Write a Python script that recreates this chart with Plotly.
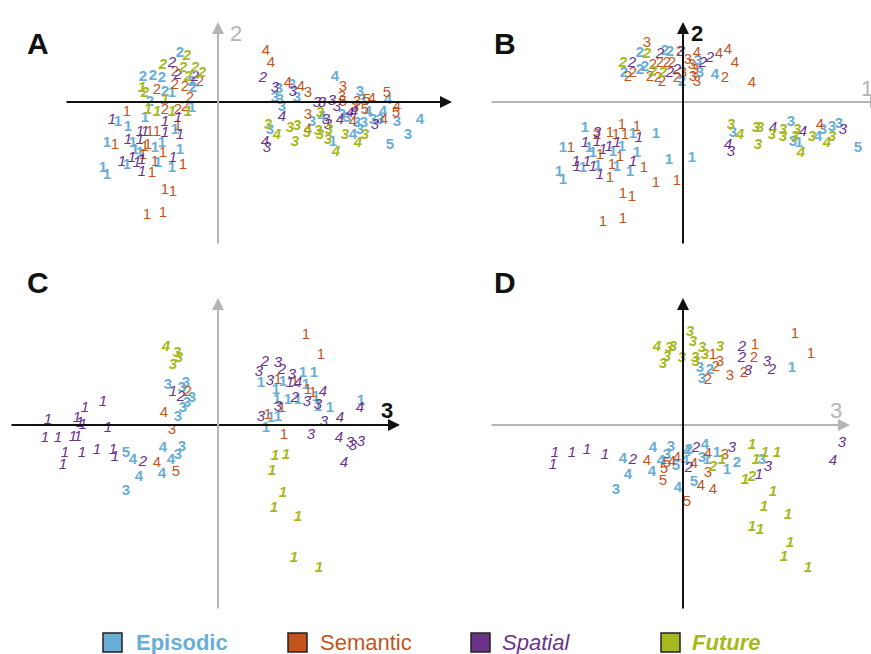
import plotly.graph_objects as go

W, H = 871, 654
S = 10.0  # pixels per score unit
FONT = "Liberation Sans, Arial, sans-serif"

# ---------------- DATA: (horizontal score, vertical score, label) ----------------
# Panel A: component 1 (horizontal) vs component 2 (vertical)
A_episodic = [(-3.8, 4.9, '2'), (-7.5, 2.5, '2'), (-6.5, 2.6, '2'), (-5.6, 2.4, '2'), (-2.6, 2.0, '2'),
              (-5.3, 1.0, '2'), (-2.5, 1.4, '2'), (-6.8, 0.0, '2'), (-4.6, 0.9, '1'), (-2.6, -0.6, '1'),
              (-7.3, -1.6, '1'), (-10.0, -2.0, '1'), (-9.0, -2.5, '1'), (-4.3, -2.8, '1'), (-11.1, -4.1, '1'),
              (-8.5, -4.1, '1'), (-6.3, -4.6, '1'), (-5.6, -4.1, '1'), (-8.3, -4.8, '1'), (-7.8, -5.1, '1'),
              (-3.8, -4.8, '1'), (-9.1, -6.3, '1'), (-6.0, -6.1, '1'), (-11.5, -6.6, '1'), (-11.1, -7.3, '1'),
              (-4.6, -6.6, '1'), (6.1, 1.3, '3'), (7.4, 1.7, '3'), (5.7, 0.4, '3'), (6.2, 0.2, '3'),
              (7.9, 0.4, '3'), (6.4, -0.5, '3'), (14.2, 1.0, '3'), (14.4, 0.2, '3'), (9.4, -2.0, '3'),
              (12.4, -1.3, '3'), (12.9, -1.6, '3'), (13.9, -2.1, '3'), (14.6, -2.1, '3'), (14.2, -2.8, '3'),
              (15.5, -1.8, '3'), (16.2, -1.8, '3'), (17.9, -2.0, '3'), (5.2, -2.8, '3'), (19.0, -3.3, '3'),
              (11.7, 2.5, '4'), (17.0, 0.2, '4'), (10.4, -1.5, '4'), (15.0, -1.0, '4'), (16.5, -1.0, '4'),
              (20.2, -1.8, '4'), (13.5, -3.3, '4'), (11.5, -4.0, '1'), (17.2, -4.3, '5')]
A_semantic = [(-4.3, 3.0, '2'), (-6.1, 1.2, '2'), (-4.3, 1.7, '2'), (-3.3, 1.5, '2'), (-2.8, 0.4, '2'),
              (-5.3, -0.8, '2'), (-4.0, -0.8, '2'), (-3.3, -0.5, '2'), (-1.8, 2.0, '2'), (-9.1, -1.0, '1'),
              (-4.0, -2.4, '1'), (-6.8, -3.0, '1'), (-6.1, -3.0, '1'), (-10.3, -4.3, '1'), (-7.3, -4.5, '1'),
              (-7.0, -4.3, '1'), (-7.5, -5.3, '1'), (-5.5, -5.1, '1'), (-6.3, -6.0, '1'), (-6.6, -7.1, '1'),
              (-3.5, -6.3, '1'), (-5.3, -8.8, '1'), (-4.5, -9.0, '1'), (-7.1, -11.3, '1'), (-5.5, -11.1, '1'),
              (4.8, 5.1, '4'), (5.3, 3.9, '4'), (7.0, 1.9, '4'), (8.3, 1.5, '4'), (9.0, -2.8, '4'),
              (13.5, -2.0, '4'), (16.6, -1.8, '4'), (17.9, -0.5, '4'), (15.4, 0.3, '4'), (9.0, 0.9, '3'),
              (12.5, 1.5, '3'), (12.4, 0.5, '3'), (13.9, 0.0, '3'), (13.7, -0.6, '3'), (9.0, -1.3, '3'),
              (12.5, 0.0, '5'), (14.9, 0.2, '5'), (16.9, 0.9, '5'), (14.7, -0.8, '5'), (17.8, -1.1, '5')]
A_spatial = [(-4.6, 3.9, '2'), (-4.0, 2.7, '2'), (-2.3, 2.5, '2'), (-10.6, -1.8, '1'), (-5.3, -2.0, '1'),
             (-4.0, -1.6, '1'), (-7.8, -3.0, '1'), (-7.3, -3.0, '1'), (-5.3, -3.1, '1'), (-3.8, -3.3, '1'),
             (-9.0, -3.8, '1'), (-7.8, -3.8, '1'), (-9.6, -6.0, '1'), (-8.6, -5.6, '1'), (-8.1, -6.1, '1'),
             (-7.6, -5.8, '1'), (-4.5, -5.6, '1'), (-7.6, -7.0, '1'), (4.5, 2.4, '2'), (5.7, 1.4, '3'),
             (7.5, 1.0, '3'), (9.9, -0.1, '3'), (10.4, -0.1, '3'), (11.4, 0.1, '3'), (11.9, -0.5, '3'),
             (10.8, -1.8, '3'), (11.0, -2.3, '3'), (15.7, -2.3, '3'), (4.9, -4.6, '3'), (6.4, -1.5, '4'),
             (13.2, -1.1, '4'), (13.6, -1.0, '4'), (12.2, -1.8, '4'), (4.7, -4.0, '4')]
A_future = [(-3.1, 4.6, '2'), (-5.5, 3.7, '2'), (-3.5, 3.4, '2'), (-2.3, 3.4, '2'), (-1.6, 2.9, '2'),
            (-3.0, 2.5, '2'), (-7.3, 0.9, '2'), (-7.6, 1.4, '1'), (-5.3, 0.2, '1'), (-7.0, -0.8, '1'),
            (-6.1, -1.0, '1'), (-4.6, -1.0, '1'), (-3.0, -1.0, '1'), (10.2, -1.1, '3'), (5.0, -2.3, '3'),
            (7.2, -2.6, '3'), (7.9, -2.4, '3'), (8.9, -3.1, '3'), (10.0, -2.9, '3'), (10.2, -3.3, '3'),
            (11.1, -2.8, '3'), (11.0, -3.8, '3'), (7.7, -4.0, '3'), (12.7, -3.3, '3'), (14.7, -3.3, '3'),
            (5.9, -3.3, '4'), (14.0, -4.1, '4'), (11.8, -5.0, '4')]

# Panel B: component 1 (horizontal) vs component 2 (vertical)
B_episodic = [(-4.3, 4.9, '2'), (-1.8, 5.1, '2'), (-1.3, 5.0, '2'), (-5.9, 2.9, '2'), (-4.3, 3.2, '2'),
              (-3.8, 3.5, '2'), (-0.1, 2.0, '2'), (1.5, 4.1, '3'), (1.7, 2.9, '3'), (10.8, -2.0, '3'),
              (5.0, -3.1, '3'), (14.0, -2.8, '3'), (14.9, -2.5, '3'), (15.6, -2.2, '3'), (11.0, -4.0, '3'),
              (3.2, 2.7, '4'), (13.5, -3.5, '4'), (-9.8, -2.6, '1'), (-5.0, -3.2, '1'), (-2.7, -3.2, '1'),
              (-12.0, -4.6, '1'), (-9.4, -4.6, '1'), (-9.0, -5.1, '1'), (-7.0, -5.0, '1'), (-6.1, -4.5, '1'),
              (-4.6, -5.1, '1'), (-1.4, -5.8, '1'), (0.9, -5.6, '1'), (-10.0, -6.6, '1'), (-8.5, -6.4, '1'),
              (-6.6, -6.5, '1'), (-5.3, -7.0, '1'), (-12.4, -7.0, '1'), (-12.0, -7.8, '1'), (11.6, -4.1, '1'),
              (17.5, -4.6, '5')]
B_semantic = [(-3.6, 5.9, '3'), (0.5, 4.2, '3'), (0.9, 3.7, '3'), (1.2, 3.2, '3'), (0.0, 2.9, '3'),
              (1.0, 2.5, '3'), (1.4, 2.0, '3'), (-0.3, 5.0, '2'), (1.4, 4.9, '4'), (3.6, 4.8, '4'),
              (4.5, 5.2, '4'), (5.2, 3.9, '4'), (6.9, 1.9, '4'), (13.7, -2.3, '4'), (-5.5, 2.5, '2'),
              (-5.0, 2.9, '2'), (-3.0, 3.7, '2'), (-2.3, 3.9, '2'), (-1.6, 3.9, '2'), (-1.1, 3.9, '2'),
              (-3.3, 2.5, '2'), (-2.5, 2.4, '2'), (-2.1, 2.0, '2'), (-0.6, 2.4, '2'), (4.2, 2.4, '2'),
              (-8.6, -3.3, '2'), (-7.3, -3.1, '1'), (-6.7, -3.3, '1'), (-6.1, -2.3, '1'), (-5.8, -3.3, '1'),
              (-4.6, -2.5, '1'), (-11.2, -4.6, '1'), (-8.3, -5.3, '1'), (-6.3, -5.5, '1'), (-7.1, -6.3, '1'),
              (-7.3, -7.6, '1'), (-3.9, -6.6, '1'), (-2.7, -8.1, '1'), (-0.6, -7.9, '1'), (-6.0, -9.2, '1'),
              (-5.1, -9.5, '1'), (-8.0, -12.0, '1'), (-6.0, -11.7, '1')]
B_spatial = [(-2.3, 4.8, '2'), (-5.1, 3.9, '2'), (-1.3, 2.9, '2'), (-0.6, 3.2, '2'), (2.0, 3.9, '2'),
             (2.7, 4.4, '2'), (-0.2, 5.0, '3'), (-8.6, -3.1, '3'), (16.0, -2.8, '3'), (4.8, -5.0, '3'),
             (9.0, -2.6, '4'), (12.0, -3.0, '4'), (4.5, -4.3, '4'), (-4.4, -3.6, '1'), (-9.8, -4.1, '1'),
             (-8.6, -4.0, '1'), (-8.0, -4.8, '1'), (-7.4, -4.5, '1'), (-6.6, -4.1, '1'), (-10.7, -6.0, '1'),
             (-10.6, -6.5, '1'), (-9.6, -6.0, '1'), (-9.0, -6.5, '1'), (-8.3, -7.3, '1'), (-5.0, -6.0, '1')]
B_future = [(-3.6, 4.8, '2'), (-6.0, 3.9, '2'), (-3.0, 3.0, '2'), (-2.0, 2.9, '2'), (4.8, -2.3, '3'),
            (7.3, -2.6, '3'), (7.7, -2.6, '3'), (8.9, -3.3, '3'), (7.5, -4.3, '3'), (10.0, -2.8, '3'),
            (10.0, -3.5, '3'), (11.4, -2.8, '3'), (11.2, -3.5, '3'), (12.9, -3.5, '3'), (14.9, -3.5, '3'),
            (5.7, -3.3, '4'), (14.4, -4.1, '4'), (11.8, -5.1, '4')]

# Panel C: component 3 (horizontal) vs component 4 (vertical)
C_episodic = [(-5.0, 4.0, '3'), (-3.6, 3.7, '3'), (-3.2, 4.2, '3'), (-3.5, 1.7, '3'), (-3.1, 2.2, '3'),
              (-2.6, 2.7, '3'), (-4.0, 0.8, '3'), (-3.6, -2.2, '3'), (-4.0, -3.0, '3'), (-9.2, -6.6, '3'),
              (-9.2, -2.8, '5'), (-8.5, -3.5, '4'), (-5.5, -2.3, '4'), (-4.7, -3.5, '4'), (-5.6, -4.9, '4'),
              (-7.9, -5.2, '4'), (4.3, 4.2, '1'), (6.5, 4.3, '1'), (5.8, 3.5, '1'), (8.5, 5.2, '1'),
              (9.6, 5.2, '1'), (8.8, 4.0, '1'), (5.9, 2.5, '1'), (7.0, 2.5, '1'), (8.0, 2.5, '1'),
              (9.8, 2.8, '1'), (10.0, 1.8, '1'), (11.2, 1.7, '1'), (5.3, 0.7, '1'), (6.0, 0.8, '1'),
              (4.8, -0.3, '1'), (14.3, 2.4, '1')]
C_semantic = [(-3.0, 3.3, '2'), (-5.4, 1.2, '4'), (-6.1, -3.8, '4'), (-4.6, -0.5, '3'), (-4.2, -4.7, '5'),
              (8.8, 9.0, '1'), (10.3, 7.0, '1'), (6.0, 4.5, '1'), (7.7, 4.3, '1'), (9.0, 3.5, '1'),
              (9.5, 3.2, '1'), (6.4, 1.7, '1'), (5.0, 1.0, '1'), (6.6, -1.0, '1')]
C_spatial = [(-4.5, 3.3, '1'), (-11.5, 2.3, '1'), (-13.3, 1.7, '1'), (-13.5, 0.0, '1'), (-17.0, 0.5, '1'),
             (-14.1, 0.7, '1'), (-13.8, 0.2, '1'), (-11.0, -0.3, '1'), (-17.3, -1.3, '1'), (-16.0, -1.3, '1'),
             (-14.5, -1.2, '1'), (-14.0, -1.2, '1'), (-15.3, -2.8, '1'), (-15.5, -4.0, '1'), (-13.6, -2.8, '1'),
             (-12.1, -2.5, '1'), (-10.5, -2.5, '1'), (-10.3, -3.2, '1'), (7.2, 4.2, '1'), (-3.7, 2.8, '2'),
             (-7.5, -3.7, '2'), (4.7, 6.3, '2'), (6.4, 5.5, '2'), (7.7, 2.7, '2'), (6.0, 6.2, '3'),
             (4.1, 5.3, '3'), (5.2, 4.4, '3'), (7.4, 5.0, '3'), (8.9, 2.3, '3'), (10.0, 2.0, '3'),
             (6.0, 1.8, '3'), (4.3, 0.8, '3'), (10.6, 0.3, '3'), (9.3, -1.0, '3'), (13.2, -1.8, '3'),
             (13.5, -2.1, '3'), (14.3, -1.7, '3'), (8.0, 4.2, '4'), (10.5, 3.3, '4'), (12.2, 0.7, '4'),
             (14.2, 1.7, '4'), (12.1, -1.3, '4'), (12.6, -3.8, '4')]
C_future = [(-5.2, 7.8, '4'), (-4.1, 7.2, '3'), (-3.9, 6.7, '3'), (-4.5, 6.0, '3'), (5.7, -3.1, '1'),
            (6.8, -3.0, '1'), (5.4, -4.6, '1'), (6.5, -6.8, '1'), (5.6, -8.3, '1'), (8.0, -9.2, '1'),
            (7.6, -13.3, '1'), (10.1, -14.3, '1')]

# Panel D: component 3 (horizontal) vs component 4 (vertical)
D_episodic = [(1.7, 5.7, '3'), (1.9, 4.6, '3'), (-1.2, -2.2, '3'), (-6.7, -6.5, '3'), (1.9, -3.3, '3'),
              (7.9, -3.5, '3'), (-1.6, -3.0, '3'), (2.7, 5.5, '2'), (0.6, -2.5, '2'), (5.4, -3.8, '2'),
              (10.9, 5.7, '1'), (2.4, -3.5, '1'), (3.4, -2.8, '1'), (4.4, -4.5, '1'), (-6.0, -3.4, '4'),
              (-3.0, -2.3, '4'), (-2.2, -3.6, '4'), (0.2, -3.6, '4'), (0.4, -2.7, '4'), (-5.5, -5.0, '4'),
              (-3.1, -4.7, '4'), (-0.5, -6.3, '4'), (2.2, -2.0, '4'), (-0.7, -4.1, '5'), (1.1, -5.7, '5')]
D_semantic = [(3.0, 7.0, '1'), (7.2, 8.0, '1'), (11.2, 9.1, '1'), (12.8, 7.1, '1'), (3.3, 5.8, '2'),
              (2.5, 4.5, '2'), (7.1, 6.7, '2'), (6.1, 5.2, '2'), (4.7, 4.9, '3'), (3.7, 6.3, '3'),
              (4.2, -3.0, '3'), (2.5, -4.8, '3'), (-3.6, -3.6, '4'), (-1.1, -3.7, '4'), (-0.6, -3.3, '4'),
              (1.1, -3.9, '4'), (2.5, -2.9, '4'), (1.8, -6.1, '4'), (3.0, -6.5, '4'), (-1.6, -3.8, '5'),
              (-1.9, -4.4, '5'), (-2.0, -5.6, '5'), (0.4, -7.7, '5')]
D_spatial = [(5.9, 7.8, '2'), (5.9, 6.7, '2'), (8.9, 5.5, '2'), (-5.0, -3.5, '2'), (0.6, -4.3, '2'),
             (1.3, -2.3, '2'), (8.4, 6.3, '3'), (6.5, 5.4, '3'), (4.9, -2.3, '3'), (8.5, -4.2, '3'),
             (15.9, -1.8, '3'), (-12.8, -2.8, '1'), (-13.0, -4.0, '1'), (-11.1, -2.8, '1'), (-9.6, -2.5, '1'),
             (-7.8, -3.0, '1'), (7.6, -5.0, '1'), (15.0, -3.6, '4')]
D_future = [(-1.8, 10.6, '4'), (-2.6, 7.8, '4'), (0.9, 10.0, '3'), (0.7, 9.3, '3'), (1.0, 8.3, '3'),
            (-1.4, 7.7, '3'), (-1.0, 7.8, '3'), (-1.6, 6.8, '3'), (-2.0, 6.1, '3'), (-0.1, 6.7, '3'),
            (1.2, 6.7, '3'), (1.9, 7.7, '3'), (2.2, 7.0, '3'), (3.7, 7.8, '3'), (1.3, 6.3, '3'),
            (3.0, -4.2, '2'), (6.9, -5.2, '2'), (3.9, -3.5, '1'), (6.9, -2.0, '1'), (7.3, -3.5, '1'),
            (8.2, -2.8, '1'), (9.4, -2.8, '1'), (6.2, -5.5, '1'), (9.0, -6.7, '1'), (8.1, -8.2, '1'),
            (10.5, -9.0, '1'), (6.9, -10.2, '1'), (7.7, -10.5, '1'), (10.7, -11.8, '1'), (10.1, -13.2, '1'),
            (12.5, -14.3, '1')]

CONDITIONS = ["Episodic", "Semantic", "Spatial", "Future"]
PANEL_DATA = {
    "A": [A_episodic, A_semantic, A_spatial, A_future],
    "B": [B_episodic, B_semantic, B_spatial, B_future],
    "C": [C_episodic, C_semantic, C_spatial, C_future],
    "D": [D_episodic, D_semantic, D_spatial, D_future],
}

# ---------------- STYLE / LAYOUT ----------------
STYLE = {
    "Episodic": dict(color="#69aed6", weight="bold", style="normal"),
    "Semantic": dict(color="#c1561d", weight="normal", style="normal"),
    "Spatial": dict(color="#6a3388", weight="normal", style="italic"),
    "Future": dict(color="#a6b91c", weight="bold", style="italic"),
}
BLACK, GRAY = "#111111", "#b5b5b5"

# panel: axis suffix, origin pixel, domain box (x0, y0, x1, y1) in pixels,
# horizontal arrow (x_start_px, x_tip_px, color, label, label_px, bold)
# vertical arrow (y_start_px, y_tip_px, color, label, label_px, bold)
PANELS = {
    "A": dict(n="", origin=(218, 102), box=(0, 0, 435, 327), letter=(25, 25),
              h=(65, 452, BLACK, "1", (440, 88), True), v=(245, 22, GRAY, "2", (236, 33), False)),
    "B": dict(n="2", origin=(683, 102), box=(436, 0, 871, 327), letter=(505, 25),
              h=(490, 882, GRAY, "1", (867, 88), False), v=(245, 22, BLACK, "2", (697, 33), True)),
    "C": dict(n="3", origin=(218, 425), box=(0, 327, 435, 654), letter=(25, 282),
              h=(10, 400, BLACK, "3", (387, 410), True), v=(610, 298, GRAY, "4", (236, 312), False)),
    "D": dict(n="4", origin=(683, 425), box=(436, 327, 871, 654), letter=(505, 282),
              h=(490, 850, GRAY, "3", (836, 410), False), v=(610, 298, BLACK, "4", (697, 312), True)),
}

fig = go.Figure()
layout = dict(width=W, height=H, margin=dict(l=0, r=0, t=0, b=0),
              paper_bgcolor="white", plot_bgcolor="white", showlegend=False)
annotations, shapes = [], []

for key, p in PANELS.items():
    n = p["n"]
    ox, oy = p["origin"]
    x0, y0, x1, y1 = p["box"]
    layout["xaxis" + n] = dict(domain=[x0 / W, x1 / W], range=[(x0 - ox) / S, (x1 - ox) / S],
                               visible=False, fixedrange=True, anchor="y" + n)
    layout["yaxis" + n] = dict(domain=[1 - y1 / H, 1 - y0 / H], range=[(oy - y1) / S, (oy - y0) / S],
                               visible=False, fixedrange=True, anchor="x" + n)
    xr, yr = "x" + n, "y" + n

    # horizontal axis arrow
    hs, ht, hc, hl, (hlx, hly), hb = p["h"]
    annotations.append(dict(x=(ht - ox) / S, y=0, ax=(hs - ox) / S, ay=0, xref=xr, yref=yr,
                            axref=xr, ayref=yr, text="", showarrow=True, arrowhead=2, arrowsize=1.2,
                            arrowwidth=2, arrowcolor=hc, standoff=0))
    annotations.append(dict(x=(hlx - ox) / S, y=(oy - hly) / S, xref=xr, yref=yr, showarrow=False,
                            text=("<b>%s</b>" % hl) if hb else hl,
                            font=dict(family=FONT, size=22, color=hc)))
    # vertical axis arrow
    vs, vt, vc, vl, (vlx, vly), vb = p["v"]
    annotations.append(dict(x=0, y=(oy - vt) / S, ax=0, ay=(oy - vs) / S, xref=xr, yref=yr,
                            axref=xr, ayref=yr, text="", showarrow=True, arrowhead=2, arrowsize=1.2,
                            arrowwidth=2, arrowcolor=vc, standoff=0))
    annotations.append(dict(x=(vlx - ox) / S, y=(oy - vly) / S, xref=xr, yref=yr, showarrow=False,
                            text=("<b>%s</b>" % vl) if vb else vl,
                            font=dict(family=FONT, size=22, color=vc)))
    # panel letter
    lx, ly = p["letter"]
    annotations.append(dict(x=lx / W, y=1 - ly / H, xref="paper", yref="paper", showarrow=False,
                            text="<b>%s</b>" % key, font=dict(family=FONT, size=30, color=BLACK)))

    # data markers (digits)
    for cond, pts in zip(CONDITIONS, PANEL_DATA[key]):
        st = STYLE[cond]
        fig.add_trace(go.Scatter(
            x=[q[0] for q in pts], y=[q[1] for q in pts], text=[q[2] for q in pts],
            mode="text", textposition="middle center", cliponaxis=False, hoverinfo="skip",
            textfont=dict(family=FONT, size=15, color=st["color"], weight=st["weight"], style=st["style"]),
            xaxis=xr, yaxis=yr, name=cond))

# legend at the bottom
LEGEND = [("Episodic", 103, 134, "<b>Episodic</b>"), ("Semantic", 288, 318, "Semantic"),
          ("Spatial", 471, 500, "<i>Spatial</i>"), ("Future", 661, 690, "<b><i>Future</i></b>")]
for cond, sx, tx, label in LEGEND:
    shapes.append(dict(type="rect", xref="paper", yref="paper", x0=sx / W, x1=(sx + 19) / W,
                       y0=1 - 652 / H, y1=1 - 633 / H, fillcolor=STYLE[cond]["color"],
                       line=dict(color="#222222", width=1.5)))
    annotations.append(dict(x=tx / W, y=1 - 642 / H, xref="paper", yref="paper", xanchor="left",
                            yanchor="middle", showarrow=False, text=label,
                            font=dict(family=FONT, size=22, color=STYLE[cond]["color"])))

layout["annotations"] = annotations
layout["shapes"] = shapes
fig.update_layout(**layout)

fig.write_html("out.html", config={"displayModeBar": False},
               post_script="document.body.style.margin='0';")
